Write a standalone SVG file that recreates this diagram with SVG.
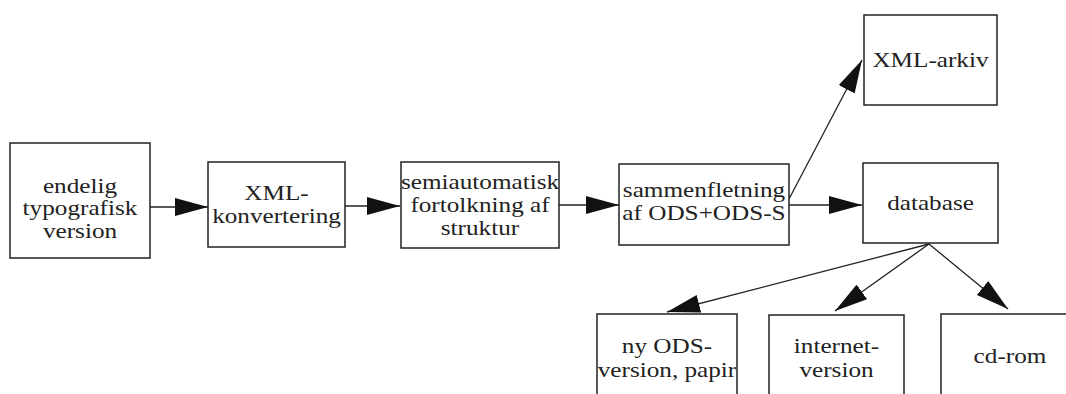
<svg xmlns="http://www.w3.org/2000/svg" width="1066" height="394" viewBox="0 0 1066 394">
<defs>
<style>
.box{fill:#fff;stroke:#222;stroke-width:1.5}
.t{font-family:"Liberation Serif","Times New Roman",serif;font-size:21px;fill:#222;text-anchor:middle}
.c{stroke:#222;stroke-width:1.3;fill:none}
</style>
<marker id="ah" markerUnits="userSpaceOnUse" viewBox="0 0 33 18" markerWidth="33" markerHeight="18" refX="33" refY="9" orient="auto">
<path d="M0,0 L33,9 L0,18 z" fill="#111"/>
</marker>
</defs>
<rect width="1066" height="394" fill="#fff"/>
<g id="connectors">
<line class="c" x1="150" y1="207" x2="208" y2="207" marker-end="url(#ah)"/>
<line class="c" x1="345" y1="206" x2="400" y2="206" marker-end="url(#ah)"/>
<line class="c" x1="559" y1="205" x2="619" y2="205" marker-end="url(#ah)"/>
<line class="c" x1="789" y1="205" x2="862" y2="205" marker-end="url(#ah)"/>
<line class="c" x1="789" y1="199" x2="862" y2="60" marker-end="url(#ah)"/>
<line class="c" x1="929" y1="244" x2="667" y2="312" marker-end="url(#ah)"/>
<line class="c" x1="929" y1="244" x2="835" y2="311" marker-end="url(#ah)"/>
<line class="c" x1="929" y1="244" x2="1008" y2="309" marker-end="url(#ah)"/>
</g>
<g id="n1"><rect class="box" x="10" y="143" width="140" height="115"/>
<text class="t" transform="translate(80 0) scale(1.2 1)"><tspan x="0" y="193">endelig</tspan><tspan x="0" y="215.5">typografisk</tspan><tspan x="0" y="238">version</tspan></text></g>
<g id="n2"><rect class="box" x="208" y="162" width="137" height="85"/>
<text class="t" transform="translate(276.5 0) scale(1.2 1)"><tspan x="0" y="200.5">XML-</tspan><tspan x="0" y="223">konvertering</tspan></text></g>
<g id="n3"><rect class="box" x="401" y="162" width="158" height="86"/>
<text class="t" transform="translate(480 0) scale(1.2 1)"><tspan x="0" y="189">semiautomatisk</tspan><tspan x="0" y="212">fortolkning af</tspan><tspan x="0" y="235">struktur</tspan></text></g>
<g id="n4"><rect class="box" x="619" y="164" width="170" height="81"/>
<text class="t" transform="translate(704 0) scale(1.2 1)"><tspan x="0" y="197">sammenfletning</tspan><tspan x="0" y="220">af ODS+ODS-S</tspan></text></g>
<g id="n5"><rect class="box" x="864" y="15" width="133" height="90"/>
<text class="t" transform="translate(930.5 0) scale(1.2 1)"><tspan x="0" y="67">XML-arkiv</tspan></text></g>
<g id="n6"><rect class="box" x="863" y="163" width="135" height="80"/>
<text class="t" transform="translate(930.5 0) scale(1.2 1)"><tspan x="0" y="210">database</tspan></text></g>
<g id="n7"><rect class="box" x="597" y="314" width="140" height="100"/>
<text class="t" transform="translate(667 0) scale(1.2 1)"><tspan x="0" y="353">ny ODS-</tspan><tspan x="0" y="377">version, papir</tspan></text></g>
<g id="n8"><rect class="box" x="769" y="315" width="135" height="100"/>
<text class="t" transform="translate(836.5 0) scale(1.2 1)"><tspan x="0" y="353">internet-</tspan><tspan x="0" y="377">version</tspan></text></g>
<g id="n9"><rect class="box" x="941" y="314" width="140" height="100"/>
<text class="t" transform="translate(1010 0) scale(1.2 1)"><tspan x="0" y="363">cd-rom</tspan></text></g>
</svg>
